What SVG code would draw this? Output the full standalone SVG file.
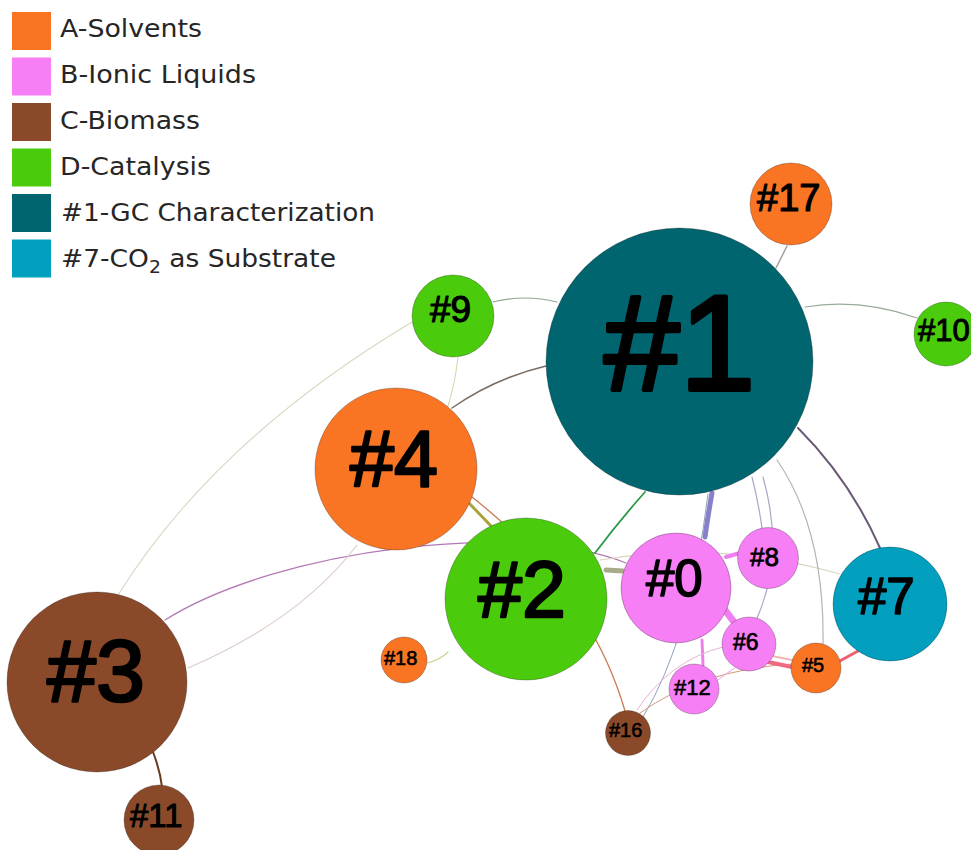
<svg xmlns="http://www.w3.org/2000/svg" width="971" height="850" viewBox="0 0 971 850">
<style>
.leg{font-family:"DejaVu Sans","Verdana",sans-serif;font-size:24px;fill:#262626}
.lbl{font-family:"Liberation Sans",Arial,sans-serif;fill:#000;stroke:#000;stroke-linejoin:round}
.n{stroke:#000;stroke-opacity:0.25;stroke-width:1}
.A{fill:#F97524}.B{fill:#F77FF5}.C{fill:#8A4A29}.D{fill:#4ACB0B}.T{fill:#00656F}.Cy{fill:#029FBF}
.e{fill:none;stroke-linecap:round}
</style>
<rect width="971" height="850" fill="#fff"/>
<g id="legend">
<rect x="12" y="12" width="39" height="38" class="A"/>
<rect x="12" y="57.5" width="39" height="38" class="B"/>
<rect x="12" y="103" width="39" height="38" class="C"/>
<rect x="12" y="148.5" width="39" height="38" class="D"/>
<rect x="12" y="194" width="39" height="38" class="T"/>
<rect x="12" y="239.5" width="39" height="38" class="Cy"/>
<text class="leg" x="60" y="37" textLength="142" lengthAdjust="spacingAndGlyphs">A-Solvents</text>
<text class="leg" x="60" y="83" textLength="196" lengthAdjust="spacingAndGlyphs">B-Ionic Liquids</text>
<text class="leg" x="60" y="129" textLength="140" lengthAdjust="spacingAndGlyphs">C-Biomass</text>
<text class="leg" x="60" y="175" textLength="151" lengthAdjust="spacingAndGlyphs">D-Catalysis</text>
<text class="leg" x="61" y="221" textLength="314" lengthAdjust="spacingAndGlyphs">#1-GC Characterization</text>
<text class="leg" x="61" y="267" textLength="275" lengthAdjust="spacingAndGlyphs">#7-CO<tspan dy="6" font-size="17">2</tspan><tspan dy="-6"> as Substrate</tspan></text>
</g>
<g id="edges">
<path class="e" d="M787,246 L776,268" stroke="#a0a0a0" stroke-width="1.5"/>
<path class="e" d="M805,307 Q860,298 917,318" stroke="#9aaa9a" stroke-width="1.2"/>
<path class="e" d="M493,302 Q525,294 557,302" stroke="#8fa88f" stroke-width="1.2"/>
<path class="e" d="M412,322 Q215,440 118,595" stroke="#dad6c2" stroke-width="1.1"/>
<path class="e" d="M458,357 Q455,385 447,409" stroke="#d8d0a8" stroke-width="1"/>
<path class="e" d="M452,408 Q495,378 546,366" stroke="#7a6e62" stroke-width="1.5"/>
<path class="e" d="M472,497 Q590,590 625,711" stroke="#c87a50" stroke-width="1.3"/>
<path class="e" d="M468,502 L492,527" stroke="#a8a43a" stroke-width="3"/>
<path class="e" d="M165,620 C280,548 520,520 626,563" stroke="#b478b4" stroke-width="1.2"/>
<path class="e" d="M188,668 Q300,620 357,545" stroke="#dccac4" stroke-width="1.1"/>
<path class="e" d="M595,553 Q620,520 645,492" stroke="#2a9a4a" stroke-width="1.8"/>
<path class="e" d="M600,560 Q720,540 840,574" stroke="#dcd6c0" stroke-width="1.1"/>
<path class="e" d="M427,663 Q440,660 448,652" stroke="#c8d890" stroke-width="1.2"/>
<path class="e" d="M643,717 Q690,640 708,494" stroke="#8ea2b8" stroke-width="1"/>
<path class="e" d="M752,477 Q758,500 762,528" stroke="#a8a8c8" stroke-width="1.2"/>
<path class="e" d="M763,477 Q785,555 757,618" stroke="#a8a8c8" stroke-width="1.2"/>
<path class="e" d="M777,460 Q825,530 823,645" stroke="#b4b4b4" stroke-width="1.2"/>
<path class="e" d="M798,428 Q850,480 880,548" stroke="#6a5a78" stroke-width="2"/>
<path class="e" d="M606,570 L623,571" stroke="#a8aa8a" stroke-width="5"/>
<path class="e" d="M705,537 Q708,515 712,493" stroke="#8880c8" stroke-width="5"/>
<path class="e" d="M726,557 L740,553" stroke="#f07ef0" stroke-width="4"/>
<path class="e" d="M722,606 L734,622" stroke="#f07ef0" stroke-width="7"/>
<path class="e" d="M702,640 L703,665" stroke="#ee80ee" stroke-width="3"/>
<path class="e" d="M637,710 Q670,660 723,647" stroke="#e8b0d4" stroke-width="1"/>
<path class="e" d="M640,713 Q700,670 792,664" stroke="#d49a7a" stroke-width="1"/>
<path class="e" d="M718,680 Q728,672 735,668" stroke="#e8a0e0" stroke-width="1"/>
<path class="e" d="M772,656 L792,660" stroke="#f4b4b4" stroke-width="2"/>
<path class="e" d="M768,662 L792,667" stroke="#f06a80" stroke-width="4"/>
<path class="e" d="M838,662 L858,651" stroke="#f06070" stroke-width="3"/>
<path class="e" d="M153,752 Q160,770 162,787" stroke="#6a3a20" stroke-width="2"/>
</g>
<g id="n1"><circle class="n T" cx="679.5" cy="361.5" r="133.5"/><text class="lbl" x="604" y="390" font-size="136" stroke-width="4">#1</text></g>
<g id="n17"><circle class="n A" cx="791" cy="204" r="41"/><text class="lbl" x="757" y="211" font-size="38" stroke-width="1.2">#17</text></g>
<g id="n10"><circle class="n D" cx="946" cy="334" r="32"/><text class="lbl" x="918" y="341" font-size="31" stroke-width="1">#10</text></g>
<g id="n9"><circle class="n D" cx="453" cy="316" r="41"/><text class="lbl" x="430" y="322" font-size="37" stroke-width="1.2">#9</text></g>
<g id="n4"><circle class="n A" cx="396" cy="469" r="81"/><text class="lbl" x="350" y="486" font-size="79" stroke-width="2.4">#4</text></g>
<g id="n2"><circle class="n D" cx="526" cy="599" r="81"/><text class="lbl" x="478" y="617" font-size="79" stroke-width="2.4">#2</text></g>
<g id="n0"><circle class="n B" cx="676" cy="588" r="55"/><text class="lbl" x="646" y="596" font-size="51" stroke-width="1.6">#0</text></g>
<g id="n8"><circle class="n B" cx="768" cy="558" r="30.5"/><text class="lbl" x="750" y="566" font-size="26" stroke-width="0.8">#8</text></g>
<g id="n7"><circle class="n Cy" cx="890" cy="604" r="57"/><text class="lbl" x="858" y="614" font-size="51" stroke-width="1.6">#7</text></g>
<g id="n6"><circle class="n B" cx="749" cy="644" r="27"/><text class="lbl" x="733" y="650" font-size="23" stroke-width="0.7">#6</text></g>
<g id="n5"><circle class="n A" cx="816" cy="668" r="25"/><text class="lbl" x="802" y="672" font-size="20" stroke-width="0.6">#5</text></g>
<g id="n12"><circle class="n B" cx="694" cy="689" r="25"/><text class="lbl" x="674" y="695" font-size="22" stroke-width="0.6">#12</text></g>
<g id="n16"><circle class="n C" cx="628" cy="733" r="22.5"/><text class="lbl" x="609" y="737" font-size="20" stroke-width="0.6">#16</text></g>
<g id="n18"><circle class="n A" cx="404" cy="660" r="23"/><text class="lbl" x="384" y="665" font-size="20" stroke-width="0.6">#18</text></g>
<g id="n3"><circle class="n C" cx="97" cy="682" r="90"/><text class="lbl" x="47" y="701" font-size="88" stroke-width="2.6">#3</text></g>
<g id="n11"><circle class="n C" cx="159" cy="820" r="35"/><text class="lbl" x="130" y="827" font-size="33" stroke-width="1">#11</text></g>
</svg>
